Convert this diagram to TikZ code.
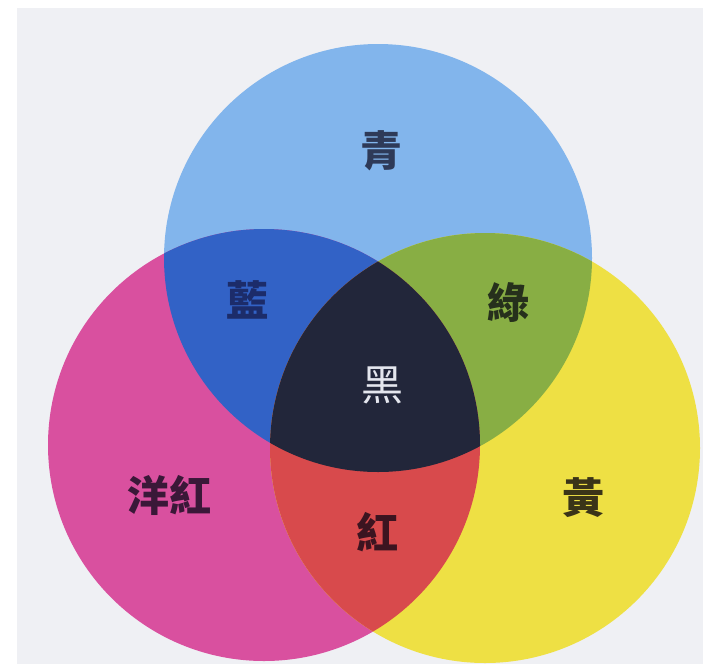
\documentclass[tikz,border=0pt]{standalone}
\usepackage{fontspec}
\newfontfamily\cjk{Noto Sans CJK TC}
\definecolor{bgpaper}{HTML}{EFF0F4}
\definecolor{cyanc}{HTML}{82B5EC}
\definecolor{magc}{HTML}{D9509F}
\definecolor{yelc}{HTML}{EEE044}
\definecolor{bluec}{HTML}{3262C6}
\definecolor{greenc}{HTML}{88AE44}
\definecolor{redc}{HTML}{D84A4C}
\definecolor{blackc}{HTML}{22263A}
\definecolor{txcyan}{HTML}{2E3A58}
\definecolor{txblue}{HTML}{1C2C6A}
\definecolor{txgreen}{HTML}{26301C}
\definecolor{txmag}{HTML}{3A1838}
\definecolor{txred}{HTML}{3C1420}
\definecolor{txyel}{HTML}{3A3418}
\definecolor{txblack}{HTML}{E4E6EE}
\tikzset{
  lbl/.style={font=\cjk\bfseries\fontsize{42}{42}\selectfont, inner sep=0pt},
}
\begin{document}
\begin{tikzpicture}[x=1pt,y=-1pt]
\useasboundingbox (0,0) rectangle (703,664);
\fill[white] (0,0) rectangle (703,664);
\fill[bgpaper] (17,8) rectangle (703,664);
\def\Cpath{(378,258) circle[radius=214]}
\def\Mpath{(264,445) circle[radius=216]}
\def\Ypath{(485,448) circle[radius=215]}
% base circles
\fill[cyanc] \Cpath;
\fill[magc] \Mpath;
\fill[yelc] \Ypath;
% pairwise overlaps
\begin{scope}\clip \Cpath; \fill[bluec] \Mpath; \end{scope}
\begin{scope}\clip \Cpath; \fill[greenc] \Ypath; \end{scope}
\begin{scope}\clip \Mpath; \fill[redc] \Ypath; \end{scope}
% triple overlap
\begin{scope}\clip \Cpath; \clip \Mpath; \fill[blackc] \Ypath; \end{scope}
% labels
\node[lbl, text=txcyan] (qing) at (381,151) {青};
\node[lbl, text=txblue] (lan) at (247,300) {藍};
\node[lbl, text=txgreen] (lv) at (508,303) {綠};
\node[lbl, text=txblack, font=\cjk\fontsize{42}{42}\selectfont] (hei) at (382,385) {黑};
\node[lbl, text=txmag] (yanghong) at (169,495) {洋紅};
\node[lbl, text=txred] (hong) at (377,532) {紅};
\node[lbl, text=txyel] (huang) at (583,498) {黃};
\end{tikzpicture}
\end{document}
